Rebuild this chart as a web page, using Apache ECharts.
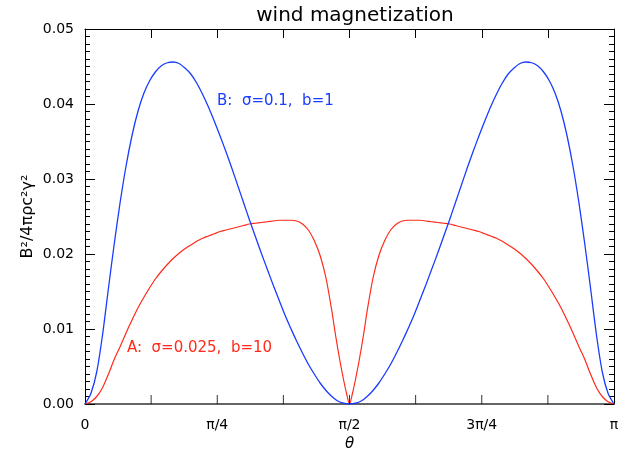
<!DOCTYPE html>
<html>
<head>
<meta charset="utf-8">
<script src="https://cdn.jsdelivr.net/npm/echarts@6/dist/echarts.min.js"></script>
<style>html,body{margin:0;padding:0;background:#fff}#c{width:635px;height:452px}</style>
</head>
<body>
<div id="c"></div>
<script>
// theta in degrees (0..180 = 0..pi)
var thetaB = [0,2,4,6,8,10,12,14,16,18,20,22,24,26,28,30,32,34,36,38,40,42,44,46,48,50,52,54,56,58,60,62,64,66,68,70,72,74,76,78,80,82,84,86,88,90,
  92,94,96,98,100,102,104,106,108,110,112,114,116,118,120,122,124,126,128,130,132,134,136,138,140,142,144,146,148,150,152,154,156,158,160,162,164,166,168,170,172,174,176,178,180];
var valuesB = [0,0.0014,0.0043,0.0093,0.0155,0.0215,0.0270,0.0318,0.0358,0.0390,0.0414,0.0431,0.0443,0.0451,0.0455,0.0456,0.0454,0.0448,0.0440,0.0428,0.0413,0.0396,0.0377,0.0357,0.0336,0.0314,0.0291,0.0268,0.0245,0.0223,0.0201,0.0180,0.0159,0.0139,0.0119,0.0101,0.0084,0.0068,0.0053,0.0040,0.0028,0.0018,0.0010,0.0004,0.0001,0,
  0.0001,0.0004,0.0010,0.0018,0.0028,0.0040,0.0053,0.0068,0.0084,0.0101,0.0119,0.0139,0.0159,0.0180,0.0201,0.0223,0.0245,0.0268,0.0291,0.0314,0.0336,0.0357,0.0377,0.0396,0.0413,0.0428,0.0440,0.0448,0.0454,0.0456,0.0455,0.0451,0.0443,0.0431,0.0414,0.0390,0.0358,0.0318,0.0270,0.0215,0.0155,0.0093,0.0043,0.0014,0];
var thetaA = [0,2,4,6,8,10,12,14,16,18,20,22,24,26,28,30,32,34,36,38,40,42,44,46,48,50,52,54,56,58,60,62,64,66,68,70,72,74,76,78,80,82,84,
  85,86,87,88,89,90,91,92,93,94,95,96,
  98,100,102,104,106,108,110,112,114,116,118,120,122,124,126,128,130,132,134,136,138,140,142,144,146,148,150,152,154,156,158,160,162,164,166,168,170,172,174,176,178,180];
var valuesA = [0,0.0003,0.0010,0.0022,0.0040,0.0060,0.0077,0.0095,0.0112,0.0128,0.0142,0.0155,0.0167,0.0177,0.0186,0.0194,0.0201,0.0207,0.0212,0.0217,0.0221,0.0224,0.0227,0.0230,0.0232,0.0234,0.0236,0.0238,0.0240,0.0241,0.0242,0.0243,0.0244,0.0245,0.0245,0.0245,0.0244,0.0240,0.0232,0.0218,0.0198,0.0168,0.0124,
  0.0098,0.0074,0.0052,0.0032,0.0014,0,0.0014,0.0032,0.0052,0.0074,0.0098,0.0124,
  0.0168,0.0198,0.0218,0.0232,0.0240,0.0244,0.0245,0.0245,0.0245,0.0244,0.0243,0.0242,0.0241,0.0240,0.0238,0.0236,0.0234,0.0232,0.0230,0.0227,0.0224,0.0221,0.0217,0.0212,0.0207,0.0201,0.0194,0.0186,0.0177,0.0167,0.0155,0.0142,0.0128,0.0112,0.0095,0.0077,0.0060,0.0040,0.0022,0.0010,0.0003,0];
var xTickValues = [22.5,45,67.5,90,112.5,135,157.5];
var xTickLabels = {0:'0',45:'π/4',90:'π/2',135:'3π/4',180:'π'};
var seriesNames = ['B:  σ=0.1,  b=1', 'A:  σ=0.025,  b=10'];

function pairs(t, v){ return t.map(function(x,i){ return [x, v[i]]; }); }

var FONT = 'DejaVu Sans';
var axisLineStyle = {color:'#000', width:1};
var chart = echarts.init(document.getElementById('c'));
chart.setOption({
  animation:false,
  textStyle:{fontFamily:FONT},
  title:{text:'wind magnetization', left:350, textAlign:'center', top:1,
    textStyle:{fontFamily:FONT, fontWeight:'normal', fontSize:20, color:'#000'}},
  grid:{left:85, right:21, top:29, bottom:48, containLabel:false, outerBoundsMode:'none'},
  xAxis:[
    {type:'value', min:0, max:180, interval:22.5, position:'bottom',
     name:'θ', nameLocation:'middle', nameGap:30,
     nameTextStyle:{fontFamily:FONT, fontStyle:'italic', fontSize:15, color:'#000'},
     axisLine:{show:true, onZero:false, lineStyle:{color:'#333', width:1.5}},
     axisTick:{show:false},
     axisLabel:{margin:14, fontSize:14, color:'#000', showMinLabel:true, showMaxLabel:true,
       formatter:function(v){ var k=Math.round(v*10)/10; return xTickLabels[k]!==undefined?xTickLabels[k]:''; }},
     splitLine:{show:false}},
    {type:'value', min:0, max:180, interval:22.5, position:'top',
     axisLine:{show:true, onZero:false, lineStyle:axisLineStyle},
     axisTick:{show:true, inside:true, length:9, lineStyle:{color:'#000', width:1}},
     axisLabel:{show:false}, splitLine:{show:false}}
  ],
  yAxis:[
    {type:'value', min:0, max:0.05, interval:0.01, position:'left',
     name:'B²/4πρc²γ²', nameLocation:'middle', nameGap:49, nameMoveOverlap:false,
     nameTextStyle:{fontFamily:FONT, fontSize:16, color:'#000'},
     axisLine:{show:true, onZero:false, lineStyle:axisLineStyle},
     axisTick:{show:true, inside:true, length:10, lineStyle:{color:'#000'}},
     minorTick:{show:true, splitNumber:10, length:5, lineStyle:{color:'#000'}},
     axisLabel:{margin:11, fontSize:14, color:'#000', formatter:function(v){ return v.toFixed(2); }},
     splitLine:{show:false}},
    {type:'value', min:0, max:0.05, interval:0.01, position:'right',
     axisLine:{show:true, onZero:false, lineStyle:axisLineStyle},
     axisTick:{show:true, inside:true, length:10, lineStyle:{color:'#000'}},
     minorTick:{show:true, splitNumber:10, length:5, lineStyle:{color:'#000'}},
     axisLabel:{show:false}, splitLine:{show:false}}
  ],
  graphic:[
    {type:'text', left:217, top:94, style:{text:seriesNames[0], fill:'#1a3cff', font:'15px "DejaVu Sans"'}},
    {type:'text', left:127, top:341, style:{text:seriesNames[1], fill:'#ff2a1a', font:'15px "DejaVu Sans"'}}
  ],
  series:[
    {type:'line', name:seriesNames[1], data:pairs(thetaA, valuesA), showSymbol:false, smooth:0.25,
     lineStyle:{color:'#ff2a1a', width:1.2}, xAxisIndex:0, yAxisIndex:0, z:3},
    {type:'line', name:seriesNames[0], data:pairs(thetaB, valuesB), showSymbol:false, smooth:0.25,
     lineStyle:{color:'#1a3cff', width:1.3}, xAxisIndex:0, yAxisIndex:0, z:4},
    {type:'scatter', name:'xticks', data:xTickValues.map(function(t){ return [t, 0]; }),
     symbol:'rect', symbolSize:[1, 9], symbolOffset:[0, -4.5], clip:false, silent:true,
     itemStyle:{color:'#000'}, xAxisIndex:0, yAxisIndex:0, z:5}
  ]
});
</script>
</body>
</html>
